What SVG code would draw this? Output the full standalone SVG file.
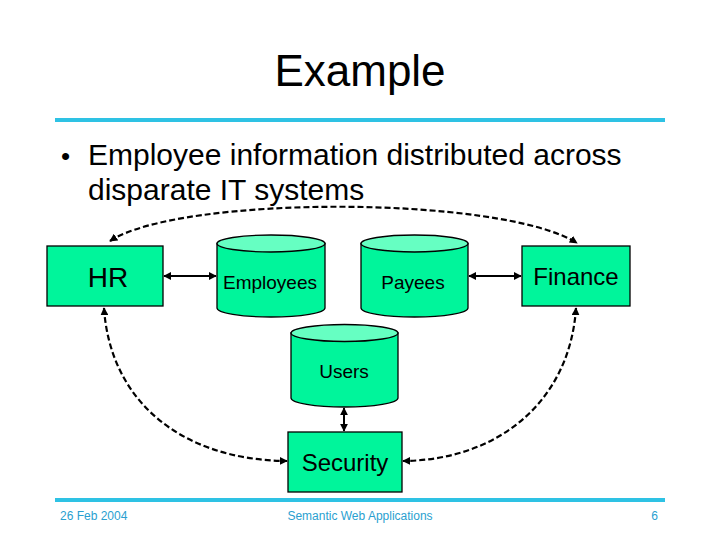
<svg xmlns="http://www.w3.org/2000/svg" width="720" height="540" viewBox="0 0 720 540">
<defs>
<style>
.t{font-family:"Liberation Sans",Arial,sans-serif;fill:#000}
.box{fill:#00F59B;stroke:#000;stroke-width:1.3}
.cyl{fill:#00F59B;stroke:#000;stroke-width:1.3}
.cyltop{fill:#66FFC2;stroke:#000;stroke-width:1.3}
.solid{fill:none;stroke:#000;stroke-width:2;marker-start:url(#ah);marker-end:url(#ah)}
.dash{fill:none;stroke:#000;stroke-width:2.2;stroke-dasharray:6 3;marker-start:url(#ah);marker-end:url(#ah)}
.rule{stroke:#2EC2E4;stroke-width:4}
.foot{font-family:"Liberation Sans",Arial,sans-serif;fill:#2A9FD0;font-size:12px}
</style>
<marker id="ah" viewBox="0 0 10 10" refX="9" refY="5" markerWidth="8" markerHeight="8" markerUnits="userSpaceOnUse" orient="auto-start-reverse">
<path d="M0,0 L10,5 L0,10 z" fill="#000"/>
</marker>
</defs>
<rect width="720" height="540" fill="#fff"/>
<text class="t" x="360" y="86" font-size="44" text-anchor="middle">Example</text>
<line class="rule" x1="55" y1="120" x2="665" y2="120"/>
<text class="t" x="61" y="165" font-size="26">•</text>
<text class="t" x="88" y="165" font-size="30">Employee information distributed across</text>
<text class="t" x="88" y="200" font-size="30">disparate IT systems</text>

<g id="connectors">
<path class="solid" d="M164 276 L216 276"/>
<path class="solid" d="M469 276 L521 276"/>
<path class="solid" d="M344 408 L344 431"/>
<path class="dash" d="M110 241 C180 195, 500 195, 577 243"/>
<path class="dash" d="M104 308 C110 400, 180 460, 287 461"/>
<path class="dash" d="M576 308 C570 400, 500 460, 403 461"/>
</g>

<g id="HR">
<rect class="box" x="47" y="246" width="116" height="60"/>
<text class="t" x="108" y="287" font-size="28" text-anchor="middle">HR</text>
</g>
<g id="Employees">
<path class="cyl" d="M217 243.5 L217 308 A54 9 0 0 0 325 308 L325 243.5 Z"/>
<ellipse class="cyltop" cx="271" cy="243.5" rx="54" ry="8.5"/>
<text class="t" x="270" y="289" font-size="19" text-anchor="middle">Employees</text>
</g>
<g id="Payees">
<path class="cyl" d="M361 243.5 L361 308 A53.5 9 0 0 0 468 308 L468 243.5 Z"/>
<ellipse class="cyltop" cx="414.5" cy="243.5" rx="53.5" ry="8.5"/>
<text class="t" x="413" y="289" font-size="19" text-anchor="middle">Payees</text>
</g>
<g id="Finance">
<rect class="box" x="522" y="246" width="108" height="60"/>
<text class="t" x="576" y="285" font-size="24" text-anchor="middle">Finance</text>
</g>
<g id="Users">
<path class="cyl" d="M291 333 L291 398 A53.5 9 0 0 0 398 398 L398 333 Z"/>
<ellipse class="cyltop" cx="344.5" cy="333" rx="53.5" ry="8.5"/>
<text class="t" x="344" y="378" font-size="19" text-anchor="middle">Users</text>
</g>
<g id="Security">
<rect class="box" x="288" y="432" width="114" height="60"/>
<text class="t" x="345" y="471" font-size="24" text-anchor="middle">Security</text>
</g>

<line class="rule" x1="55" y1="500" x2="665" y2="500"/>
<text class="foot" x="60" y="520">26 Feb 2004</text>
<text class="foot" x="360" y="520" text-anchor="middle">Semantic Web Applications</text>
<text class="foot" x="658" y="520" text-anchor="end">6</text>
</svg>
